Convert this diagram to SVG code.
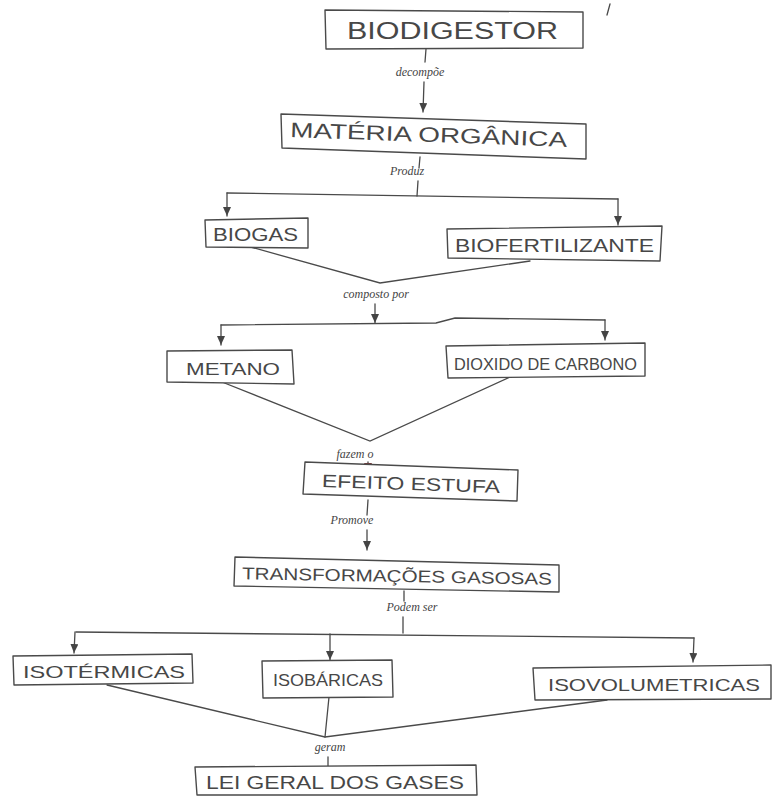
<svg xmlns="http://www.w3.org/2000/svg" width="774" height="797" viewBox="0 0 774 797">
  <style>
    .box{fill:#fff;stroke:#4a4a4a;stroke-width:1.4;stroke-linejoin:round}
    .t{font-family:"Liberation Sans",sans-serif;fill:#474747}
    .lb{font-family:"Liberation Serif",serif;font-style:italic;font-size:12px;fill:#444}
    .c{fill:none;stroke:#4a4a4a;stroke-width:1.3;stroke-linecap:round}
    .a{marker-end:url(#arr)}
  </style>
  <defs>
    <marker id="arr" markerUnits="userSpaceOnUse" markerWidth="10" markerHeight="10" refX="9" refY="4" orient="auto">
      <path d="M0,0 L9,4 L0,8 z" fill="#444"/>
    </marker>
    <marker id="arrRed" markerUnits="userSpaceOnUse" markerWidth="10" markerHeight="10" refX="9" refY="4" orient="auto">
      <path d="M0,0 L9,4 L0,8 z" fill="#7a3a3a"/>
    </marker>
  </defs>
  <rect width="774" height="797" fill="#fff"/>

  <!-- stray pen mark -->
  <path d="M607,15 L610,4" class="c" stroke-width="1"/>

  <g id="connectors">
    <!-- biodigestor -> materia organica -->
    <path class="c" d="M426,49 L425,62"/>
    <path class="c a" d="M424,82 L423,112"/>
    <!-- materia organica -> biogas / biofertilizante -->
    <path class="c" d="M420,157 L419,168"/>
    <path class="c" d="M418,181 L417,196"/>
    <path class="c" d="M227,193 L618,199"/>
    <path class="c a" d="M227,193 L227,216"/>
    <path class="c a" d="M618,199 L618,225"/>
    <!-- biogas / biofertilizante -> composto por -->
    <path class="c" d="M247,246 L380,283 L530,261"/>
    <path class="c a" d="M375,304 L375,323"/>
    <path class="c" d="M221,325 L436,323 L455,318 L605,320"/>
    <path class="c a" d="M221,325 L221,345"/>
    <path class="c a" d="M605,320 L605,340"/>
    <!-- metano / dioxido -> efeito estufa -->
    <path class="c" d="M222,382 L370,441 L510,377"/>
    <path class="c" d="M368,462 L368,472" marker-end="url(#arrRed)"/>
    <!-- efeito estufa -> transformacoes -->
    <path class="c" d="M368,500 L367,515"/>
    <path class="c a" d="M367,530 L367,550"/>
    <!-- transformacoes -> tipos -->
    <path class="c" d="M404,591 L404,601"/>
    <path class="c" d="M403,617 L403,633"/>
    <path class="c" d="M76,632 L694,638"/>
    <path class="c a" d="M75,632 L74,653"/>
    <path class="c a" d="M330,634 L330,660"/>
    <path class="c a" d="M694,638 L693,662"/>
    <!-- tipos -> lei geral -->
    <path class="c" d="M107,685 L325,737 L607,700"/>
    <path class="c" d="M329,697 L325,737"/>
    <path class="c" d="M328,757 L328,767"/>

    <!-- linking words -->
    <text class="lb" x="420" y="76" text-anchor="middle">decompõe</text>
    <text class="lb" x="407" y="175" text-anchor="middle">Produz</text>
    <text class="lb" x="376" y="298" text-anchor="middle">composto por</text>
    <text class="lb" x="355" y="458" text-anchor="middle">fazem o</text>
    <text class="lb" x="352" y="524" text-anchor="middle">Promove</text>
    <text class="lb" x="412" y="611" text-anchor="middle">Podem ser</text>
    <text class="lb" x="330" y="751" text-anchor="middle">geram</text>
  </g>

  <g id="biodigestor">
    <polygon class="box" points="325,10 583,12 583,48 326,49"/>
    <text class="t" x="347" y="39" font-size="23" textLength="211" lengthAdjust="spacingAndGlyphs">BIODIGESTOR</text>
  </g>

  <g id="materia-organica">
    <polygon class="box" points="281,114 586,124 586,159 282,148"/>
    <text class="t" x="290" y="142" font-size="21" textLength="277" lengthAdjust="spacingAndGlyphs" transform="rotate(2 430 137)">MATÉRIA ORGÂNICA</text>
  </g>

  <g id="biogas">
    <polygon class="box" points="205,220 308,218 308,248 206,247"/>
    <text class="t" x="213" y="241" font-size="18" textLength="85" lengthAdjust="spacingAndGlyphs">BIOGAS</text>
  </g>

  <g id="biofertilizante">
    <polygon class="box" points="447,229 662,226 660,261 448,258"/>
    <text class="t" x="455" y="252" font-size="19" textLength="199" lengthAdjust="spacingAndGlyphs">BIOFERTILIZANTE</text>
  </g>

  <g id="metano">
    <polygon class="box" points="167,351 292,350 294,384 167,382"/>
    <text class="t" x="186" y="375" font-size="17" textLength="94" lengthAdjust="spacingAndGlyphs">METANO</text>
  </g>

  <g id="dioxido-de-carbono">
    <polygon class="box" points="446,346 645,343 645,376 448,378"/>
    <text class="t" x="454" y="370" font-size="17" textLength="183" lengthAdjust="spacingAndGlyphs">DIOXIDO DE CARBONO</text>
  </g>

  <g id="efeito-estufa">
    <polygon class="box" points="305,462 518,470 517,501 303,494"/>
    <text class="t" x="322" y="490" font-size="18" textLength="178" lengthAdjust="spacingAndGlyphs" transform="rotate(2 410 483)">EFEITO ESTUFA</text>
  </g>

  <g id="transformacoes-gasosas">
    <polygon class="box" points="235,557 559,565 559,592 234,586"/>
    <text class="t" x="242" y="582" font-size="17" textLength="310" lengthAdjust="spacingAndGlyphs" transform="rotate(1 400 576)">TRANSFORMAÇÕES GASOSAS</text>
  </g>

  <g id="isotermicas">
    <polygon class="box" points="13,656 192,654 193,683 14,685"/>
    <text class="t" x="23" y="678" font-size="17" textLength="162" lengthAdjust="spacingAndGlyphs">ISOTÉRMICAS</text>
  </g>

  <g id="isobaricas">
    <polygon class="box" points="262,661 392,660 393,697 263,698"/>
    <text class="t" x="273" y="686" font-size="17" textLength="110" lengthAdjust="spacingAndGlyphs">ISOBÁRICAS</text>
  </g>

  <g id="isovolumetricas">
    <polygon class="box" points="533,668 771,665 771,699 535,700"/>
    <text class="t" x="548" y="691" font-size="17" textLength="212" lengthAdjust="spacingAndGlyphs">ISOVOLUMETRICAS</text>
  </g>

  <g id="lei-geral-dos-gases">
    <polygon class="box" points="195,767 476,765 477,795 197,795"/>
    <text class="t" x="206" y="789" font-size="18" textLength="258" lengthAdjust="spacingAndGlyphs">LEI GERAL DOS GASES</text>
  </g>
</svg>
